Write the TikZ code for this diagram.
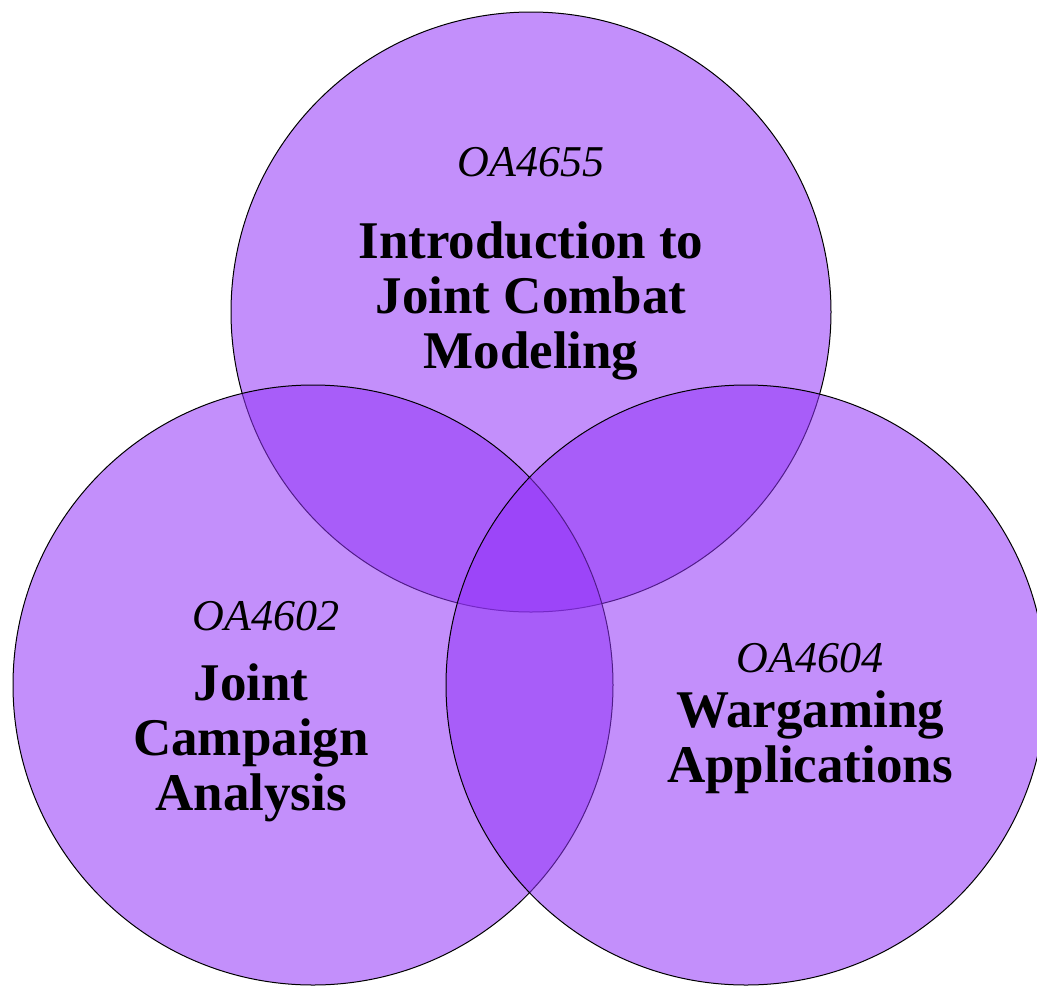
\documentclass[tikz,border=0pt]{standalone}
\usepackage{fontspec}
\setmainfont{Liberation Serif}
\usepackage{tikz}

\definecolor{venn}{RGB}{146,51,248}

\begin{document}
\begin{tikzpicture}[x=1pt,y=-1pt,
    course/.style={circle,draw=black,line width=1pt,fill=venn,fill opacity=0.55,
      minimum size=600pt,inner sep=0pt},
    code/.style={anchor=base,font=\fontsize{44}{46}\selectfont\itshape},
    title/.style={anchor=base,align=center,font=\fontsize{53}{55}\selectfont\bfseries}]
    \clip (0,0) rectangle (1037,986);
    %% the three courses
    \node[course] (jcm) at (531,312) {};
    \node[course] (jca) at (313,685) {};
    \node[course] (wga) at (746,685) {};
    %% titles sit on the baseline of their last line
    \node[code]  (codejcm)  at (531,176) {OA4655};
    \node[title] (titlejcm) at (531,368) {Introduction to\\Joint Combat\\Modeling};
    %%
    \node[code]  (codejca)  at (266,630) {OA4602};
    \node[title] (titlejca) at (251,810) {Joint\\Campaign\\Analysis};
    %%
    \node[code]  (codewga)  at (810,672) {OA4604};
    \node[title] (titlewga) at (810,782) {Wargaming\\Applications};
\end{tikzpicture}
\end{document}
